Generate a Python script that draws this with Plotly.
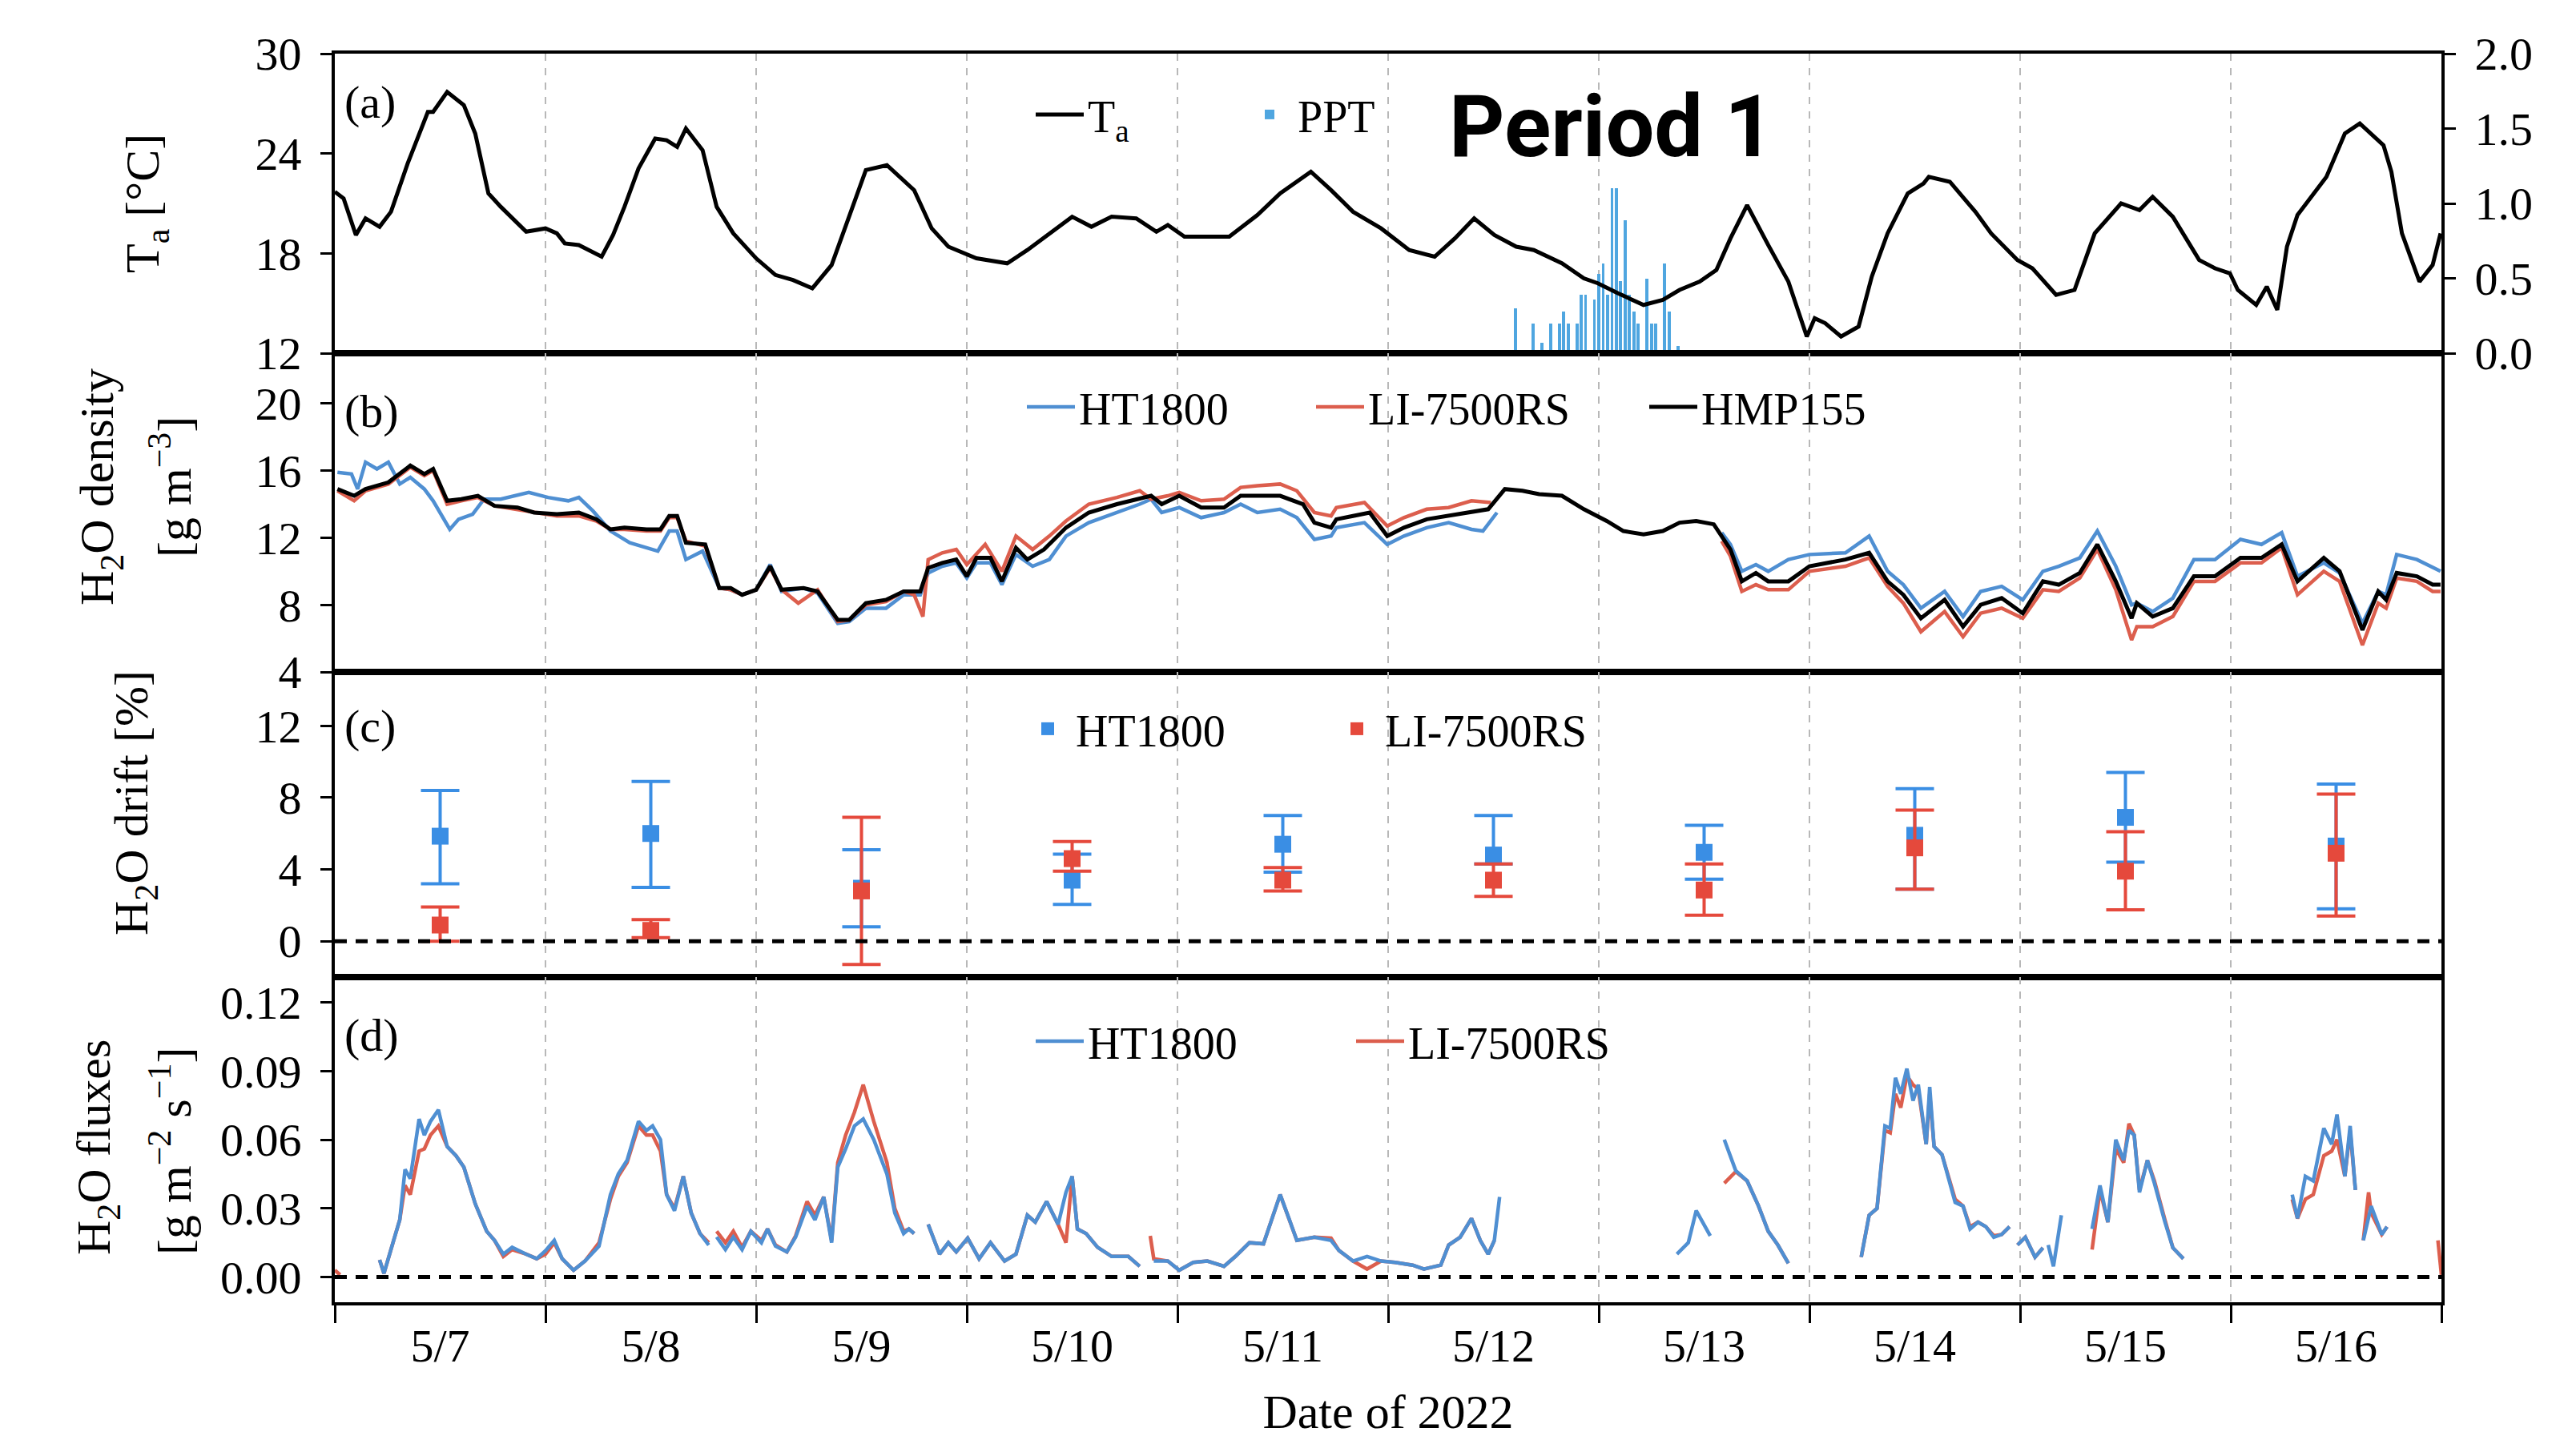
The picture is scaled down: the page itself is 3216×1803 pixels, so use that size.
import pandas as pd
import plotly.graph_objects as go
from plotly.subplots import make_subplots

# ---------------- data (hours since 2022-05-07 00:00) ----------------
ta_hours = [0, 1, 2.4, 3.5, 5.1, 6.4, 8.3, 10.6, 11.2, 12.8, 14.7, 16, 17.5, 18.9, 21.8,
            24, 25.3, 26.2, 27.8, 30.4, 31.7, 33, 34.6, 36.5, 37.8, 39, 40, 41.9, 43.5, 45.4,
            48, 50.2, 52.2, 54.4, 56.6, 58.6, 60.5, 62.9, 66, 68, 69.9,
            73.1, 76.6, 78.9, 82.1, 84, 86.2, 88.5, 91.3, 93.6, 94.9,
            96.8, 100, 101.9, 105.1, 107.7, 111.2, 113.5, 116, 119.2,
            122.4, 125.3, 127.6, 129.8, 132.1, 134.6, 136.6, 139.8, 142.3, 143.9,
            146.2, 149.1, 151.3, 153.2, 155.5, 157.4, 159, 160.9, 163.3, 165.6, 167.7,
            168.6, 169.8, 171.6, 173.6, 175.1, 176.9, 179.2, 181, 181.6, 184, 186.9, 188.7, 191.7,
            193.4, 196.1, 198.2, 200.5, 203.5, 205.6, 207.1, 209.4, 212.4, 214.2, 215.9,
            216.8, 218.9, 220.1, 221.3, 222.4, 223.6, 226.9, 229, 230.7, 233.4, 234.3, 235.5, 237.5, 239, 239.9]
ta_values = [21.7, 21.3, 19.1, 20.1, 19.6, 20.5, 23.4, 26.5, 26.5, 27.7, 26.9, 25.2, 21.6, 20.8, 19.3,
             19.5, 19.2, 18.6, 18.5, 17.8, 19.1, 20.8, 23.1, 24.9, 24.8, 24.4, 25.5, 24.2, 20.8, 19.2,
             17.7, 16.7, 16.4, 15.9, 17.3, 20.3, 23.0, 23.3, 21.8, 19.5, 18.4,
             17.7, 17.4, 18.2, 19.5, 20.2, 19.6, 20.2, 20.1, 19.3, 19.7,
             19.0, 19.0, 19.0, 20.3, 21.6, 22.9, 21.8, 20.5, 19.5,
             18.2, 17.8, 18.9, 20.1, 19.1, 18.4, 18.2, 17.4, 16.5, 16.2,
             15.6, 14.9, 15.2, 15.8, 16.3, 17.0, 18.9, 20.9, 18.5, 16.3, 13.0,
             14.1, 13.8, 13.0, 13.6, 16.6, 19.2, 21.6, 22.2, 22.6, 22.3, 20.5, 19.2, 17.6,
             17.1, 15.5, 15.8, 19.2, 21.0, 20.6, 21.4, 20.2, 17.6, 17.1, 16.8,
             15.8, 14.9, 16.0, 14.6, 18.4, 20.3, 22.6, 25.2, 25.8, 24.5, 22.9, 19.2, 16.3, 17.3, 19.2]

ppt_hours = [134.5, 136.5, 137.5, 138.5, 139.5, 140.0, 140.5, 141.5, 142.0, 142.5,
             143.5, 144.0, 144.5, 145.0, 145.5, 146.0, 146.5, 147.0, 147.5, 148.0,
             148.5, 149.5, 150.0, 150.5, 151.5, 152.0, 153.0]
ppt_values = [0.30, 0.20, 0.07, 0.20, 0.20, 0.28, 0.20, 0.20, 0.39, 0.39,
              0.36, 0.53, 0.60, 0.39, 1.10, 1.10, 0.48, 0.89, 0.39, 0.28,
              0.20, 0.50, 0.20, 0.20, 0.60, 0.28, 0.05]

hmp_hours = [0.3, 2.2, 3.5, 6.1, 8.6, 10.2, 11.2, 12.8, 14.4, 16.3, 18.2, 20.8, 22.7,
             25.3, 27.8, 29.8, 31.4, 33.0, 35.5, 37.1, 38.1, 39.0, 40.0, 42.2, 43.8, 45.1, 46.4,
             48.0, 49.6, 50.9, 53.4, 55.0, 57.3, 58.6, 60.5, 62.8, 64.8, 66.7, 67.6, 69.2, 70.8,
             72.0, 73.1, 74.7, 76.0, 77.6, 78.9, 80.8, 83.3, 85.9, 89.1, 91.4, 93.0, 94.2,
             96.2, 98.7, 101.3, 103.2, 105.1, 107.7, 110.3, 111.6, 113.5, 114.1, 116.0, 117.9, 119.9,
             121.8, 124.4, 126.9, 129.5, 131.4, 133.3, 135.3, 137.2, 139.8, 142.3,
             144.9, 146.8, 149.1, 151.3, 153.2, 155.1, 157.1, 159.0, 160.3, 161.9, 163.3, 165.6,
             168.0, 172.1, 174.8, 176.9, 178.7, 180.7, 183.4, 185.5, 187.5, 189.9,
             192.3, 194.6, 196.4, 198.8, 200.8, 202.9, 204.7, 205.3, 207.1, 209.4, 211.8, 214.2,
             217.1, 219.5, 221.8, 223.6, 226.6, 228.4, 231.0, 232.8, 233.7, 234.9, 237.2, 239.0, 239.9]
hmp_density = [14.9, 14.5, 14.9, 15.3, 16.3, 15.8, 16.1, 14.2, 14.3, 14.5, 13.9, 13.8, 13.5,
               13.4, 13.5, 13.1, 12.5, 12.6, 12.5, 12.5, 13.3, 13.3, 11.7, 11.6, 9.0, 9.0, 8.6,
               8.9, 10.3, 8.9, 9.0, 8.8, 7.1, 7.1, 8.1, 8.3, 8.8, 8.8, 10.2, 10.5, 10.7,
               9.7, 10.8, 10.8, 9.4, 11.4, 10.7, 11.3, 12.6, 13.5, 14.0, 14.3, 14.5, 14.0,
               14.5, 13.8, 13.8, 14.5, 14.5, 14.5, 14.0, 12.9, 12.6, 13.1, 13.3, 13.5, 12.1,
               12.6, 13.1, 13.3, 13.5, 13.7, 14.9, 14.8, 14.6, 14.5, 13.7,
               13.0, 12.4, 12.2, 12.4, 12.9, 13.0, 12.8, 11.3, 9.4, 9.9, 9.4, 9.4,
               10.3, 10.7, 11.1, 9.4, 8.6, 7.2, 8.3, 6.7, 8.0, 8.4,
               7.5, 9.4, 9.2, 9.9, 11.6, 9.4, 7.2, 8.1, 7.3, 7.8, 9.7, 9.7,
               10.8, 10.8, 11.6, 9.4, 10.8, 10.0, 6.5, 8.8, 8.3, 9.9, 9.7, 9.2, 9.2]

ht_hours = [0.3, 1.9, 2.6, 3.5, 4.8, 6.1, 7.4, 8.6, 10.2, 11.2, 13.1, 14.1, 15.7, 17.0, 18.9, 22.1,
            24.3, 26.6, 27.8, 29.4, 31.4, 33.6, 36.8, 38.1, 39.0, 40.0, 41.9, 43.8, 45.1, 46.4,
            48.0, 49.6, 50.9, 53.4, 55.0, 57.3, 58.6, 60.5, 62.8, 64.8, 66.7, 67.6, 69.2, 70.8,
            72.0, 73.1, 74.7, 76.0, 77.6, 79.5, 81.4, 83.3, 85.9, 89.1, 91.7, 93.0, 94.2,
            96.2, 98.7, 101.3, 103.2, 105.1, 107.7, 109.6, 111.6, 113.5, 114.1, 117.3, 119.9,
            121.8, 124.4, 126.9, 129.5, 130.8, 132.4, None,
            158.0, 159.0, 160.3, 161.9, 163.3, 165.6,
            168.0, 172.1, 174.8, 176.9, 178.7, 180.7, 183.4, 185.5, 187.5, 189.9,
            192.3, 194.6, 196.4, 198.8, 200.8, 202.9, 204.7, 205.3, 207.1, 209.4, 211.8, 214.2,
            217.1, 219.5, 221.8, 223.6, 226.6, 228.4, 231.0, 232.8, 233.7, 234.9, 237.2, 239.0, 239.9]
ht_density = [15.9, 15.8, 14.9, 16.5, 16.1, 16.5, 15.2, 15.6, 14.9, 14.2, 12.5, 13.1, 13.4, 14.3, 14.3, 14.7,
              14.4, 14.2, 14.4, 13.6, 12.4, 11.7, 11.2, 12.4, 12.4, 10.7, 11.2, 9.0, 8.9, 8.6,
              8.9, 10.4, 8.8, 9.0, 8.7, 6.9, 7.0, 7.8, 7.8, 8.6, 8.6, 9.9, 10.3, 10.5,
              9.6, 10.5, 10.5, 9.2, 11.0, 10.3, 10.7, 12.1, 12.9, 13.5, 14.0, 14.3, 13.5,
              13.8, 13.2, 13.5, 14.0, 13.5, 13.7, 13.2, 11.9, 12.1, 12.6, 12.9, 11.6,
              12.1, 12.6, 12.9, 12.5, 12.4, 13.5, None,
              12.3, 11.6, 10.0, 10.4, 10.0, 10.7,
              11.0, 11.1, 12.1, 10.0, 9.2, 7.8, 8.8, 7.3, 8.8, 9.1,
              8.3, 10.0, 10.3, 10.8, 12.4, 10.3, 8.0, 8.1, 7.6, 8.4, 10.7, 10.7,
              11.9, 11.6, 12.3, 9.7, 10.5, 9.9, 6.9, 8.8, 8.6, 11.0, 10.7, 10.2, 10.0]

li_hours = [0.3, 2.2, 3.5, 6.1, 8.6, 10.2, 11.2, 12.8, 14.4, 16.3, 18.2, 20.8, 22.7,
            25.3, 27.8, 29.8, 31.4, 33.0, 35.5, 37.1, 38.1, 39.0, 40.0, 42.2, 43.8, 45.1, 46.4,
            48.0, 49.6, 50.9, 52.8, 55.0, 57.3, 58.6, 60.5, 62.8, 64.8, 66.0, 67.0, 67.6, 69.2, 70.8,
            72.0, 74.1, 76.0, 77.6, 79.5, 81.4, 83.3, 85.9, 89.1, 91.7, 93.0, 94.9,
            96.2, 98.7, 101.3, 103.2, 105.1, 107.7, 109.6, 111.6, 113.5, 114.1, 117.3, 119.9,
            121.8, 124.4, 126.9, 129.5, 131.7, None,
            158.0, 159.0, 160.3, 161.9, 163.3, 165.6,
            168.0, 172.1, 174.8, 176.9, 178.7, 180.7, 183.4, 185.5, 187.5, 189.9,
            192.3, 194.6, 196.4, 198.8, 200.8, 202.9, 204.7, 205.3, 207.1, 209.4, 211.8, 214.2,
            217.1, 219.5, 221.8, 223.6, 226.6, 228.4, 231.0, 232.8, 233.7, 234.9, 237.2, 239.0, 239.9]
li_density = [14.8, 14.2, 14.8, 15.2, 16.2, 15.7, 16.0, 14.0, 14.2, 14.4, 13.9, 13.7, 13.5,
              13.3, 13.3, 13.0, 12.5, 12.5, 12.4, 12.4, 13.2, 13.2, 11.8, 11.5, 9.0, 8.9, 8.6,
              8.9, 10.2, 8.9, 8.1, 8.9, 7.0, 7.1, 8.0, 8.2, 8.8, 8.6, 7.3, 10.7, 11.1, 11.3,
              10.4, 11.6, 10.0, 12.1, 11.3, 12.1, 13.0, 14.0, 14.4, 14.8, 14.3, 14.5,
              14.7, 14.2, 14.3, 15.0, 15.1, 15.2, 14.8, 13.5, 13.3, 13.8, 14.1, 12.7,
              13.2, 13.7, 13.8, 14.2, 14.1, None,
              11.8, 10.9, 8.8, 9.2, 8.9, 8.9,
              10.0, 10.3, 10.8, 9.1, 8.1, 6.4, 7.6, 6.1, 7.5, 7.8,
              7.2, 8.9, 8.8, 9.6, 11.3, 8.9, 5.9, 6.7, 6.7, 7.3, 9.4, 9.4,
              10.5, 10.5, 11.4, 8.6, 10.0, 9.4, 5.6, 8.1, 7.8, 9.6, 9.4, 8.8, 8.8]

drift_hours = [12, 36, 60, 84, 108, 132, 156, 180, 204, 228]
ht_drift_mean = [5.85, 6.0, 2.95, 3.4, 5.4, 4.8, 4.95, 5.9, 6.9, 5.3]
ht_drift_high = [8.4, 8.9, 5.1, 4.85, 7.0, 7.0, 6.45, 8.5, 9.4, 8.75]
ht_drift_low = [3.2, 3.0, 0.8, 2.05, 3.85, 4.3, 3.45, 2.9, 4.4, 1.8]
li_drift_mean = [0.9, 0.6, 2.8, 4.6, 3.4, 3.4, 2.85, 5.2, 3.9, 4.9]
li_drift_high = [1.9, 1.2, 6.9, 5.55, 4.1, 4.3, 4.3, 7.3, 6.1, 8.2]
li_drift_low = [0.0, 0.2, -1.3, 3.9, 2.8, 2.5, 1.45, 2.9, 1.75, 1.4]

flux_ht_hours = [5.1, 5.6, 6.7, 7.4, 8.0, 8.6, 9.6, 10.2, 10.9, 11.8, 12.8, 13.8, 14.7, 16.0, 17.3, 18.2, 19.2, 20.2, 21.8, 23.0,
                 24.0, 25.0, 25.9, 27.2, 28.5, 30.1, 31.4, 32.3, 33.3, 34.6, 35.5, 36.2, 37.1, 37.8, 38.7, 39.7, 40.6, 41.6, 42.6, None,
                 43.5, 44.5, 45.4, 46.4, 47.4, 48.6, 49.3, 50.2, 51.5, 52.5, 53.8, 54.7, 55.7, 56.6, 57.3, 58.2, 59.2, 60.2, 61.4, 62.9,
                 63.8, 64.8, 65.4, 66.0, None, 67.6, 68.9, 69.9, 70.8, 72.1, 73.4, 74.7, 76.3, 77.6, 78.9, 79.8, 81.1, 82.4, 83.3, 84.0,
                 84.6, 85.6, 86.9, 88.5, 90.4, 91.7, None, 93.3, 94.9, 96.2, 97.8, 99.4, 101.3, 102.6, 104.2, 105.8, 107.7, 108.7, 109.6, 111.6,
                 113.5, 114.4, 116.0, 117.6, 119.2, 120.8, 122.8, 124.1, 126.0, 126.9, 128.2, 129.5, 130.5, 131.4, 132.1, 132.7, None, 152.9, 154.2, 155.1,
                 156.7, None, 158.3, 159.6, 160.9, 162.2, 163.3, 164.4, 165.6, None, 173.9, 174.8, 175.7, 176.6, 177.2, 177.8, 178.4, 179.1, 179.8, 180.4,
                 181.3, 181.7, 182.2, 183.1, 184.6, 185.5, 186.3, 187.2, 188.1, 189.0, 189.9, 190.8, None, 191.7, 192.6, 193.7, 194.6, None, 195.2, 195.8,
                 196.7, None, 200.2, 201.1, 202.0, 202.9, 203.8, 204.4, 205.0, 205.6, 206.5, 207.3, 208.5, 209.4, 210.6, None, 223.0, 223.6, 224.5, 225.4,
                 226.6, 227.5, 228.1, 229.0, 229.6, 230.2, None, 231.1, 232.0, 233.2, 233.8]
flux_ht_values = [0.0075, 0.0016, 0.016, 0.025, 0.047, 0.043, 0.069, 0.062, 0.068, 0.073, 0.057, 0.053, 0.048, 0.032, 0.020, 0.016, 0.010, 0.013, 0.010, 0.008,
                  0.0115, 0.016, 0.008, 0.003, 0.007, 0.0135, 0.036, 0.045, 0.051, 0.068, 0.064, 0.066, 0.060, 0.036, 0.029, 0.044, 0.028, 0.019, 0.014, None,
                  0.0175, 0.012, 0.0175, 0.012, 0.020, 0.015, 0.021, 0.0135, 0.011, 0.0175, 0.031, 0.025, 0.035, 0.015, 0.048, 0.056, 0.066, 0.069, 0.060, 0.045,
                  0.028, 0.019, 0.021, 0.019, None, 0.023, 0.010, 0.015, 0.011, 0.017, 0.008, 0.015, 0.007, 0.010, 0.027, 0.024, 0.033, 0.023, 0.037, 0.044,
                  0.021, 0.019, 0.013, 0.009, 0.009, 0.0047, None, 0.007, 0.007, 0.003, 0.0064, 0.007, 0.0047, 0.009, 0.015, 0.0145, 0.036, 0.0256, 0.016, 0.0174,
                  0.016, 0.0116, 0.007, 0.009, 0.007, 0.0064, 0.0052, 0.0035, 0.0052, 0.014, 0.0174, 0.0256, 0.016, 0.010, 0.016, 0.035, None, 0.010, 0.015, 0.029,
                  0.018, None, 0.060, 0.0465, 0.042, 0.031, 0.020, 0.014, 0.006, None, 0.0087, 0.027, 0.030, 0.066, 0.065, 0.087, 0.080, 0.091, 0.077, 0.084,
                  0.058, 0.083, 0.057, 0.0535, 0.0326, 0.031, 0.021, 0.024, 0.022, 0.0174, 0.0186, 0.022, None, 0.014, 0.0174, 0.0087, 0.0128, None, 0.014, 0.0047,
                  0.027, None, 0.021, 0.040, 0.024, 0.060, 0.051, 0.064, 0.062, 0.037, 0.051, 0.041, 0.024, 0.0128, 0.008, None, 0.036, 0.0256, 0.044, 0.042,
                  0.065, 0.058, 0.071, 0.044, 0.066, 0.038, None, 0.016, 0.031, 0.0186, 0.022]

flux_li_hours = [0.0, 0.6, None,
                 5.1, 5.6, 6.7, 7.4, 8.0, 8.6, 9.6, 10.2, 10.9, 11.8, 12.8, 13.8, 14.7, 16.0, 17.3, 18.2, 19.2, 20.2, 21.8, 23.0,
                 24.0, 25.0, 25.9, 27.2, 28.5, 30.1, 31.4, 32.3, 33.3, 34.6, 35.5, 36.2, 37.1, 37.8, 38.7, 39.7, 40.6, 41.6, 42.6, None,
                 43.5, 44.5, 45.4, 46.4, 47.4, 48.6, 49.3, 50.2, 51.5, 52.5, 53.8, 54.7, 55.7, 56.6, 57.3, 58.2, 59.2, 60.2, 61.4, 62.9,
                 63.8, 64.8, 65.4, 66.0, None, 67.6, 68.9, 69.9, 70.8, 72.1, 73.4, 74.7, 76.3, 77.6, 78.9, 79.8, 81.1, 82.4, 83.3, 84.0,
                 84.6, 85.6, 86.9, 88.5, 90.4, 91.7, None, 92.9, 93.3, 94.9, 96.2, 97.8, 99.4, 101.3, 102.6, 104.2, 105.8, 107.7, 108.7, 109.6, 111.6,
                 113.5, 114.4, 116.0, 117.6, 119.2, 120.8, 122.8, 124.1, 126.0, 126.9, 128.2, 129.5, 130.5, 131.4, 132.1, None,
                 158.3, 159.6, 160.9, 162.2, 163.3, 164.4, 165.6, None,
                 173.9, 174.8, 175.7, 176.6, 177.2, 177.8, 178.4, 179.1, 179.8, 180.4,
                 181.3, 181.7, 182.2, 183.1, 184.6, 185.5, 186.3, 187.2, 188.1, 189.0, 189.9, 190.8, None, 191.7, 192.6, 193.7, 194.6, None,
                 200.2, 201.1, 202.0, 202.9, 203.8, 204.4, 205.0, 205.6, 206.5, 207.3, 208.5, 209.4, 210.6, None,
                 223.0, 223.6, 224.5, 225.4, 226.6, 227.5, 228.1, 229.0, 229.6, 230.2, None,
                 231.1, 231.7, 232.0, 233.2, 233.8, None, 239.6, 240.0]
flux_li_values = [0.003, 0.001, None,
                  0.0075, 0.0016, 0.016, 0.025, 0.040, 0.036, 0.055, 0.056, 0.062, 0.066, 0.057, 0.053, 0.048, 0.032, 0.020, 0.016, 0.009, 0.012, 0.010, 0.008,
                  0.010, 0.015, 0.008, 0.003, 0.007, 0.015, 0.034, 0.044, 0.050, 0.066, 0.062, 0.062, 0.055, 0.036, 0.030, 0.044, 0.028, 0.019, 0.015, None,
                  0.020, 0.015, 0.020, 0.013, 0.020, 0.016, 0.021, 0.014, 0.011, 0.018, 0.033, 0.027, 0.035, 0.016, 0.050, 0.062, 0.072, 0.084, 0.068, 0.050,
                  0.030, 0.020, 0.021, 0.019, None, 0.023, 0.010, 0.015, 0.011, 0.017, 0.008, 0.015, 0.007, 0.010, 0.027, 0.024, 0.033, 0.023, 0.015, 0.044,
                  0.021, 0.019, 0.013, 0.009, 0.009, 0.0047, None, 0.018, 0.008, 0.007, 0.003, 0.0064, 0.007, 0.0047, 0.009, 0.015, 0.0145, 0.036, 0.0256, 0.016, 0.0174,
                  0.017, 0.0116, 0.007, 0.0035, 0.007, 0.0064, 0.0052, 0.0035, 0.0052, 0.014, 0.0174, 0.0256, 0.016, 0.010, 0.016, None,
                  0.041, 0.046, 0.042, 0.031, 0.020, 0.014, 0.006, None,
                  0.0087, 0.027, 0.030, 0.064, 0.063, 0.080, 0.074, 0.088, 0.084, 0.082,
                  0.058, 0.080, 0.057, 0.0535, 0.034, 0.031, 0.022, 0.024, 0.022, 0.018, 0.0186, 0.022, None, 0.014, 0.0174, 0.0087, 0.0128, None,
                  0.012, 0.038, 0.024, 0.056, 0.050, 0.067, 0.062, 0.038, 0.051, 0.042, 0.025, 0.0128, 0.008, None,
                  0.034, 0.0256, 0.034, 0.036, 0.053, 0.055, 0.060, 0.044, 0.064, 0.038, None,
                  0.016, 0.037, 0.028, 0.0186, 0.022, None, 0.016, 0.001]

# ---------------- helpers / styles ----------------
BASE = pd.Timestamp("2022-05-07 00:00")


def to_time(hours):
    return [None if h is None else (BASE + pd.Timedelta(hours=h)).strftime("%Y-%m-%d %H:%M:%S") for h in hours]


SERIF = "Liberation Serif"
HT_LINE = "#4f8fd2"
LI_LINE = "#dc5e4d"
HT_MARK = "#3a8ee4"
LI_MARK = "#e5493c"
PPT_COLOR = "#4fa6e0"

W, H = 3216, 1803
L, R, T, B = 410, 176, 59, 185
PW, PH = W - L - R, H - T - B


def px2x(px):
    return (px - L) / PW


def px2y(py):
    return (H - B - py) / PH


fig = make_subplots(rows=4, cols=1, shared_xaxes=True, vertical_spacing=0,
                    row_heights=[374, 398, 381, 406],
                    specs=[[{"secondary_y": True}], [{}], [{}], [{}]])

# panel (a)
fig.add_trace(go.Bar(x=to_time(ppt_hours), y=ppt_values, width=0.35 * 3600 * 1000,
                     marker=dict(color=PPT_COLOR, line_width=0), name="PPT", legend="legend2"),
              row=1, col=1, secondary_y=False)
fig.add_trace(go.Scatter(x=to_time(ta_hours), y=ta_values, mode="lines",
                         line=dict(color="black", width=5), name="T<sub>a</sub>", legend="legend"),
              row=1, col=1, secondary_y=True)

# panel (b)
fig.add_trace(go.Scatter(x=to_time(ht_hours), y=ht_density, mode="lines", connectgaps=False,
                         line=dict(color=HT_LINE, width=4.5), name="HT1800", legend="legend3"), row=2, col=1)
fig.add_trace(go.Scatter(x=to_time(li_hours), y=li_density, mode="lines", connectgaps=False,
                         line=dict(color=LI_LINE, width=4.5), name="LI-7500RS", legend="legend4"), row=2, col=1)
fig.add_trace(go.Scatter(x=to_time(hmp_hours), y=hmp_density, mode="lines",
                         line=dict(color="black", width=5), name="HMP155", legend="legend5"), row=2, col=1)

# panel (c)
fig.add_trace(go.Scatter(
    x=to_time(drift_hours), y=ht_drift_mean, mode="markers", name="HT1800", legend="legend6",
    marker=dict(symbol="square", size=21, color=HT_MARK),
    error_y=dict(type="data", symmetric=False,
                 array=[h - m for h, m in zip(ht_drift_high, ht_drift_mean)],
                 arrayminus=[m - l for m, l in zip(ht_drift_mean, ht_drift_low)],
                 color=HT_MARK, thickness=4, width=24)), row=3, col=1)
fig.add_trace(go.Scatter(
    x=to_time(drift_hours), y=li_drift_mean, mode="markers", name="LI-7500RS", legend="legend7",
    marker=dict(symbol="square", size=21, color=LI_MARK),
    error_y=dict(type="data", symmetric=False,
                 array=[h - m for h, m in zip(li_drift_high, li_drift_mean)],
                 arrayminus=[m - l for m, l in zip(li_drift_mean, li_drift_low)],
                 color=LI_MARK, thickness=4, width=24)), row=3, col=1)

# panel (d)
fig.add_trace(go.Scatter(x=to_time(flux_li_hours), y=flux_li_values, mode="lines", connectgaps=False,
                         line=dict(color=LI_LINE, width=4.5), name="LI-7500RS", legend="legend9"), row=4, col=1)
fig.add_trace(go.Scatter(x=to_time(flux_ht_hours), y=flux_ht_values, mode="lines", connectgaps=False,
                         line=dict(color=HT_LINE, width=4.5), name="HT1800", legend="legend8"), row=4, col=1)

for r in (3, 4):
    fig.add_hline(y=0, line=dict(color="black", width=5, dash="15px,11px"), row=r, col=1)

# ---------------- axes ----------------
tickfont = dict(family=SERIF, size=58, color="black")
axis_common = dict(showline=True, linecolor="black", linewidth=4, zeroline=False,
                   tickfont=tickfont, ticks="outside", tickcolor="black", tickwidth=3)

xr = [to_time([0])[0], to_time([240])[0]]
for r in (1, 2, 3, 4):
    fig.update_xaxes(row=r, col=1, type="date", range=xr, mirror=True, domain=[0, 1],
                     showline=True, linecolor="black", linewidth=4, zeroline=False,
                     showgrid=True, gridcolor="#b8b8b8", griddash="dash", gridwidth=2,
                     tick0=xr[0], dtick=86400000)
for r in (1, 2, 3):
    fig.update_xaxes(row=r, col=1, ticks="", showticklabels=False)
fig.update_xaxes(row=4, col=1, ticks="outside", ticklen=22, tickwidth=3, tickcolor="black",
                 ticklabelmode="period", tickformat="%-m/%-d", tickfont=tickfont, ticklabelstandoff=-22,
                 title=dict(text="Date of 2022", font=dict(family=SERIF, size=60, color="black"), standoff=30))

fig.update_yaxes(row=1, col=1, secondary_y=True, side="left", range=[12, 30], tickvals=[12, 18, 24, 30],
                 mirror=True, showgrid=False, ticklen=14, ticklabelstandoff=12, **axis_common)
fig.update_yaxes(row=1, col=1, secondary_y=False, side="right", range=[0, 2], tickvals=[0, 0.5, 1, 1.5, 2],
                 tickformat=".1f", showgrid=False, ticklen=14, ticklabelstandoff=12, **axis_common)
fig.update_yaxes(row=2, col=1, range=[4, 23], tickvals=[4, 8, 12, 16, 20], mirror=True, showgrid=False,
                 ticklen=14, ticklabelstandoff=12, **axis_common)
fig.update_yaxes(row=3, col=1, range=[-2, 15], tickvals=[0, 4, 8, 12], mirror=True, showgrid=False,
                 ticklen=14, ticklabelstandoff=12, **axis_common)
fig.update_yaxes(row=4, col=1, range=[-0.011, 0.131], tickvals=[0, 0.03, 0.06, 0.09, 0.12], tickformat=".2f",
                 mirror=True, showgrid=False, ticklen=14, ticklabelstandoff=12, **axis_common)

# ---------------- legends ----------------
legfont = dict(family=SERIF, size=56, color="black")


def leg(xpx, ypx):
    return dict(x=px2x(xpx), y=px2y(ypx), xanchor="left", yanchor="middle", orientation="h",
                bgcolor="rgba(0,0,0,0)", font=legfont, itemwidth=60)


fig.update_layout(
    showlegend=True,
    legend=leg(1280, 135), legend2=leg(1542, 135),
    legend3=leg(1269, 500), legend4=leg(1630, 500), legend5=leg(2046, 500),
    legend6=leg(1265, 902), legend7=leg(1651, 902),
    legend8=leg(1280, 1292), legend9=leg(1680, 1292),
)

# ---------------- annotations ----------------
ann = []
for lab, ypx in (("(a)", 119), ("(b)", 505), ("(c)", 898), ("(d)", 1284)):
    ann.append(dict(text=lab, x=px2x(420), y=px2y(ypx), xref="paper", yref="paper",
                    xanchor="left", yanchor="middle", showarrow=False, font=dict(family=SERIF, size=58, color="black")))

ytitles = [("T<sub>a</sub> [°C]", 174, 246),
           ("H<sub>2</sub>O density", 117, 600),
           ("[g m<sup>−3</sup>]", 205, 600),
           ("H<sub>2</sub>O drift [%]", 160, 995),
           ("H<sub>2</sub>O fluxes", 113, 1425),
           ("[g m<sup>−2</sup> s<sup>−1</sup>]", 205, 1430)]
for txt, xpx, ypx in ytitles:
    ann.append(dict(text=txt, x=px2x(xpx), y=px2y(ypx), xref="paper", yref="paper", textangle=-90,
                    xanchor="center", yanchor="middle", showarrow=False,
                    font=dict(family=SERIF, size=60, color="black")))

ann.append(dict(text="<b>Period 1</b>", x=px2x(2004), y=px2y(150), xref="paper", yref="paper",
                xanchor="center", yanchor="middle", showarrow=False,
                font=dict(family="Roboto", size=108, color="black")))

fig.update_layout(annotations=ann)

fig.update_layout(width=W, height=H, margin=dict(l=L, r=R, t=T, b=B, autoexpand=False),
                  paper_bgcolor="white", plot_bgcolor="white", bargap=0,
                  font=dict(family=SERIF, color="black"))

fig.write_html("out.html")
